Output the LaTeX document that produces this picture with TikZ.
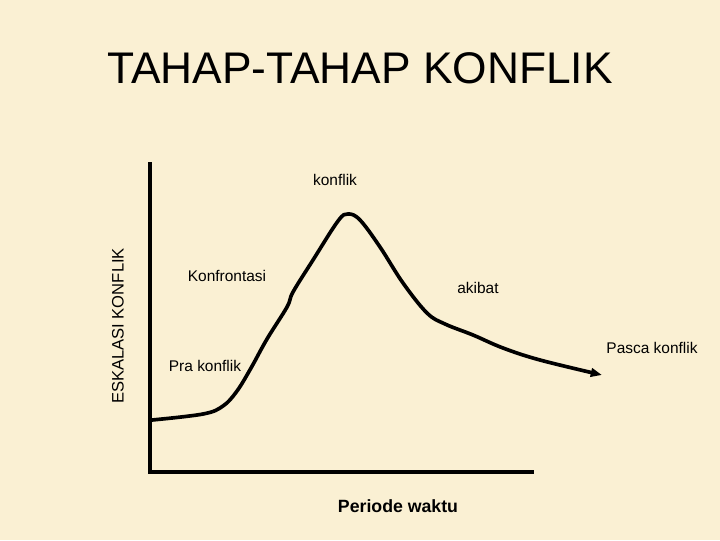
\documentclass[tikz,border=0pt]{standalone}
\usepackage{fontspec}
\setmainfont{Liberation Sans}
\usetikzlibrary{arrows.meta}
\definecolor{paper}{HTML}{FAF0D3}
\definecolor{ink}{HTML}{000000}

\begin{document}
\begin{tikzpicture}[
  x=0.025cm, y=-0.025cm,
  axis/.style={draw=ink, line width=2.2pt},
  curve/.style={draw=ink, line width=2.6pt, line join=round,
    -{Triangle[length=8pt,width=6pt]}},
  lab/.style={font=\fontsize{11}{13}\selectfont, text=ink, inner sep=0pt}
]

%% ---------- page ----------
\fill[paper] (0,0) rectangle (720,540);
\useasboundingbox (0,0) rectangle (720,540);

%% ---------- title ----------
\node[font=\fontsize{31.5}{36}\selectfont, text=ink] (title) at (360,68) {TAHAP-TAHAP KONFLIK};

%% ---------- axes ----------
\coordinate (top)    at (150,162);
\coordinate (origin) at (150,472);
\coordinate (right)  at (534,472);
\draw[axis] (top) -- (origin) -- (right);

%% ---------- curve ----------
\draw[curve] plot[smooth, tension=0.6] coordinates {
  (152,420) (203,414) (223,406) (237,391) (251,368) (267,339) (287,307)
  (293,292) (313,260) (338,221) (348,214) (360,220) (380,247)
  (403,283) (427,313) (445,324) (473,335) (503,348) (540,360) (602,375)};

%% ---------- labels ----------
\node[lab] (puncak)   at (335,180) {konflik};
\node[lab] (konfron)  at (227,276) {Konfrontasi};
\node[lab] (akibat)   at (478,288) {akibat};
\node[lab] (pra)      at (205,366) {Pra konflik};
\node[lab] (pasca)    at (652,348) {Pasca konflik};
\node[lab, font=\bfseries\fontsize{12.6}{15}\selectfont] (waktu) at (398,506) {Periode waktu};
\node[lab, font=\fontsize{11.8}{14}\selectfont, rotate=90] (eskalasi) at (118,326) {ESKALASI KONFLIK};

\end{tikzpicture}
\end{document}
